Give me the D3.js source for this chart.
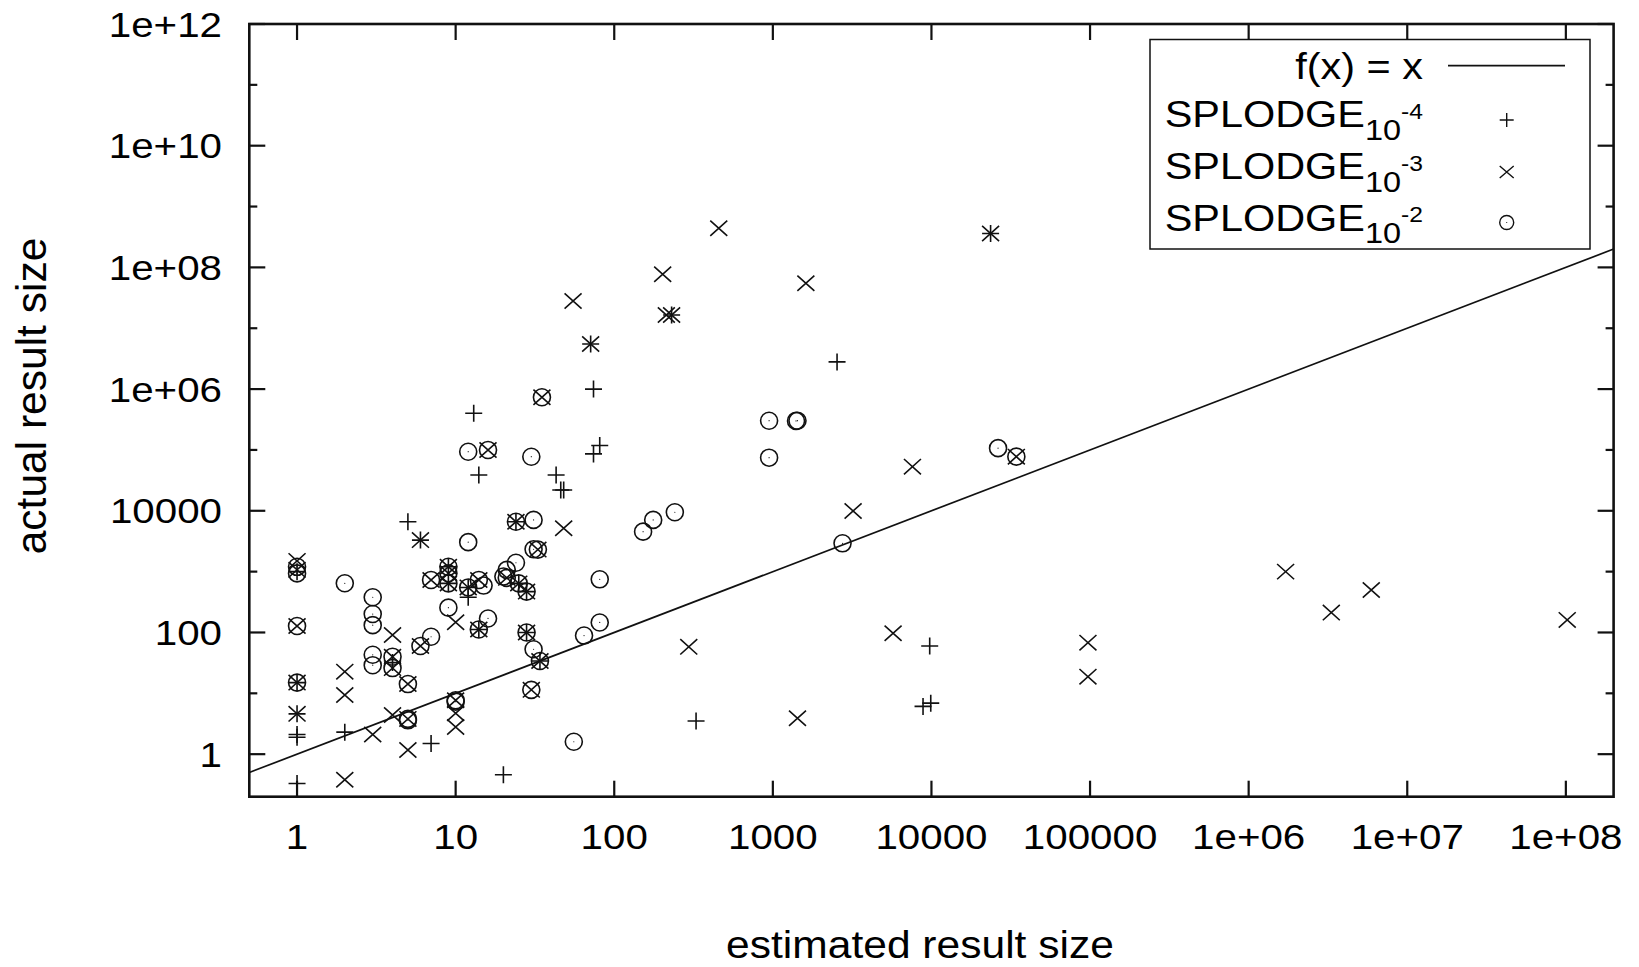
<!DOCTYPE html>
<html><head><meta charset="utf-8">
<script src="https://cdn.jsdelivr.net/npm/d3@7"></script>
<style>
body{margin:0;background:#fff}
svg text{font-family:"Liberation Sans",Arial,Helvetica,sans-serif;fill:#000}
</style>
</head><body>
<svg id="chart" width="1639" height="967"></svg>
<script>
// ---------- data ----------
const xTickValues = [1, 10, 100, 1000, 10000, 100000, 1e6, 1e7, 1e8];
const xTickLabels = ["1", "10", "100", "1000", "10000", "100000", "1e+06", "1e+07", "1e+08"];
const yTickValues = [1, 100, 1e4, 1e6, 1e8, 1e10, 1e12];
const yTickLabels = ["1", "100", "10000", "1e+06", "1e+08", "1e+10", "1e+12"];
const yMinorTickValues = [10, 1000, 1e5, 1e7, 1e9, 1e11];
const xTitle = "estimated result size";
const yTitle = "actual result size";
const lineLabel = "f(x) = x";
const seriesBase = "SPLODGE";
const seriesSub = "10";
const seriesExp = ["-4", "-3", "-2"];
const identityX = [0.5, 2e8];

// SPLODGE 10^-4  (+)
const splodge4 = [
  [1, 1000], [1, 15], [1, 4.6], [1, 1.9], [1, 2.1], [1, 0.33],
  [2, 2.3], [4, 32], [5, 6600], [6, 3300], [7, 1.5],
  [9, 1200], [9, 640], [12, 550], [12, 380], [13, 400000], [14, 38700], [14, 112],
  [20, 0.46], [24, 6600], [25, 640], [28, 470], [28, 100], [34, 34],
  [43, 38700], [46, 21900], [48, 21900], [71, 5.5e6], [74, 1e6], [74, 86000], [81, 118000],
  [230, 1.65e7], [328, 3.5], [2540, 2.8e6], [8850, 6.1], [9750, 60], [9900, 6.9], [23600, 3.6e8]
];
// SPLODGE 10^-3  (x)
const splodge3 = [
  [1, 1500], [1, 1070], [1, 128], [1, 15], [1, 4.6],
  [2, 22.7], [2, 9.4], [2, 0.38],
  [3, 2.1],
  [4, 91], [4, 40], [4, 26], [4, 4.4],
  [5, 14.2], [5, 3.8], [5, 1.17],
  [6, 3300], [6, 60], [7, 730],
  [9, 1200], [9, 940], [9, 640],
  [10, 147], [10, 7.7], [10, 4.7], [10, 2.8],
  [12, 550], [14, 730], [14, 112], [16, 100000], [21, 790],
  [24, 6600], [25, 640], [28, 470], [28, 100], [30, 11.4], [33, 2300], [34, 34], [35, 733000],
  [48, 5160], [55, 2.8e7], [71, 5.5e6],
  [202, 7.7e7], [213, 1.65e7], [230, 1.65e7], [295, 58], [456, 4.4e8],
  [1430, 3.9], [1615, 5.5e7], [3206, 9930], [5730, 97], [7590, 53100], [23600, 3.6e8], [34300, 77600],
  [97000, 68], [97000, 18.8], [1.71e6, 1000], [3.32e6, 212], [5.93e6, 499], [1.02e8, 161]
];
// SPLODGE 10^-2  (o)
const splodge2 = [
  [1, 1200], [1, 935], [1, 128], [1, 15],
  [2, 643],
  [3, 379], [3, 201], [3, 132], [3, 43], [3, 29],
  [4, 40], [4, 26],
  [5, 14.2], [5, 3.8], [5, 3.6],
  [6, 60], [7, 730], [7, 85],
  [9, 1200], [9, 940], [9, 640], [9, 256],
  [10, 7.7], [10, 7.3],
  [12, 93500], [12, 3050], [12, 550],
  [14, 730], [14, 112], [15, 590], [16, 100000], [16, 170],
  [20, 830], [21, 1070], [21, 790],
  [24, 1400], [24, 6600], [25, 640], [28, 470], [28, 100],
  [30, 77400], [30, 11.4], [31, 7080], [31, 2330], [31, 53], [33, 2300], [34, 34], [35, 733000],
  [55.6, 1.6], [64.5, 89], [81, 748], [81, 146],
  [152, 4540], [176, 7080], [241, 9460],
  [947, 302000], [947, 74600], [1400, 300000], [1430, 302000],
  [2750, 2920], [26300, 107000], [34300, 77600]
];

// ---------- layout ----------
const L = 249.3, R = 1613.6, T = 24, B = 796.7;
const SX = 1.12;            // horizontal stretch of glyphs in the reference
const FS = 36;              // tick font size
const LFS = 37;             // legend font size
const ink = "#111";

const svg = d3.select("#chart");
const x = d3.scaleLog().domain([0.5, 2e8]).range([L, R]);
const y = d3.scaleLog().domain([0.2, 1e12]).range([B, T]);

function stext(g, px, py, str, anchor, size) {
  return g.append("g").attr("transform", `translate(${px},${py}) scale(${SX},1)`)
    .append("text").attr("text-anchor", anchor).attr("font-size", size).text(str);
}

// identity line (clipped)
svg.append("clipPath").attr("id", "clip").append("rect")
  .attr("x", L).attr("y", T).attr("width", R - L).attr("height", B - T);
svg.append("path")
  .datum(identityX)
  .attr("clip-path", "url(#clip)")
  .attr("d", d3.line().x(d => x(d)).y(d => y(d)))
  .attr("fill", "none").attr("stroke", ink).attr("stroke-width", 1.7);

// markers
const ms = 8.5;
const gPts = svg.append("g").attr("fill", "none").attr("stroke", ink).attr("stroke-width", 1.6);
function plus(g, cx, cy) {
  g.append("path").attr("d", `M${cx - ms},${cy}H${cx + ms}M${cx},${cy - ms}V${cy + ms}`);
}
function cross(g, cx, cy) {
  const a = ms, b = ms * 0.9;
  g.append("path").attr("d", `M${cx - a},${cy - b}L${cx + a},${cy + b}M${cx - a},${cy + b}L${cx + a},${cy - b}`);
}
function circ(g, cx, cy) {
  g.append("circle").attr("cx", cx).attr("cy", cy).attr("r", ms);
  g.append("circle").attr("cx", cx).attr("cy", cy).attr("r", 0.6).attr("fill", ink).attr("stroke", "none");
}
splodge4.forEach(d => plus(gPts, x(d[0]), y(d[1])));
splodge3.forEach(d => cross(gPts, x(d[0]), y(d[1])));
splodge2.forEach(d => circ(gPts, x(d[0]), y(d[1])));

// frame
svg.append("rect").attr("x", L).attr("y", T).attr("width", R - L).attr("height", B - T)
  .attr("fill", "none").attr("stroke", ink).attr("stroke-width", 2.6);

// ticks
const gT = svg.append("g").attr("stroke", ink).attr("stroke-width", 2.2);
xTickValues.forEach(v => {
  gT.append("line").attr("x1", x(v)).attr("x2", x(v)).attr("y1", B).attr("y2", B - 16);
  gT.append("line").attr("x1", x(v)).attr("x2", x(v)).attr("y1", T).attr("y2", T + 16);
});
yTickValues.forEach(v => {
  gT.append("line").attr("x1", L).attr("x2", L + 16).attr("y1", y(v)).attr("y2", y(v));
  gT.append("line").attr("x1", R).attr("x2", R - 16).attr("y1", y(v)).attr("y2", y(v));
});
yMinorTickValues.forEach(v => {
  gT.append("line").attr("x1", L).attr("x2", L + 8).attr("y1", y(v)).attr("y2", y(v));
  gT.append("line").attr("x1", R).attr("x2", R - 8).attr("y1", y(v)).attr("y2", y(v));
});

// tick labels
xTickValues.forEach((v, i) => stext(svg, x(v), 849, xTickLabels[i], "middle", FS));
yTickValues.forEach((v, i) => stext(svg, 222, y(v) + 12.5, yTickLabels[i], "end", FS));

// axis titles
stext(svg, 920, 958, xTitle, "middle", 38);
svg.append("g").attr("transform", `translate(46,396) rotate(-90)`)
  .append("text").attr("text-anchor", "middle").attr("font-size", 42.5).text(yTitle);

// legend
const lg = svg.append("g");
lg.append("rect").attr("x", 1150).attr("y", 39.5).attr("width", 440).attr("height", 209.5)
  .attr("fill", "#fff").attr("stroke", ink).attr("stroke-width", 1.5);
stext(lg, 1423, 79.3, lineLabel, "end", LFS);
lg.append("line").attr("x1", 1448).attr("x2", 1565).attr("y1", 65.7).attr("y2", 65.7)
  .attr("stroke", ink).attr("stroke-width", 1.7);
const rowBase = [127.3, 179.3, 230.7];
const markY = [120, 172, 222.5];
seriesExp.forEach((e, i) => {
  const t = stext(lg, 1423, rowBase[i], "", "end", LFS);
  t.append("tspan").text(seriesBase);
  t.append("tspan").attr("font-size", 29).attr("dy", 12.7).text(seriesSub);
  t.append("tspan").attr("font-size", 22).attr("dy", -21).text(e);
});
const gL = lg.append("g").attr("fill", "none").attr("stroke", ink).attr("stroke-width", 1.4);
const lgMs = 7;
gL.append("path").attr("d", `M${1506.7 - lgMs},${markY[0]}H${1506.7 + lgMs}M1506.7,${markY[0] - lgMs}V${markY[0] + lgMs}`);
gL.append("path").attr("d", `M${1506.7 - lgMs},${markY[1] - lgMs * 0.85}L${1506.7 + lgMs},${markY[1] + lgMs * 0.85}M${1506.7 - lgMs},${markY[1] + lgMs * 0.85}L${1506.7 + lgMs},${markY[1] - lgMs * 0.85}`);
gL.append("circle").attr("cx", 1506.7).attr("cy", markY[2]).attr("r", lgMs);
gL.append("circle").attr("cx", 1506.7).attr("cy", markY[2]).attr("r", 0.6).attr("fill", ink).attr("stroke", "none");
</script>
</body></html>
